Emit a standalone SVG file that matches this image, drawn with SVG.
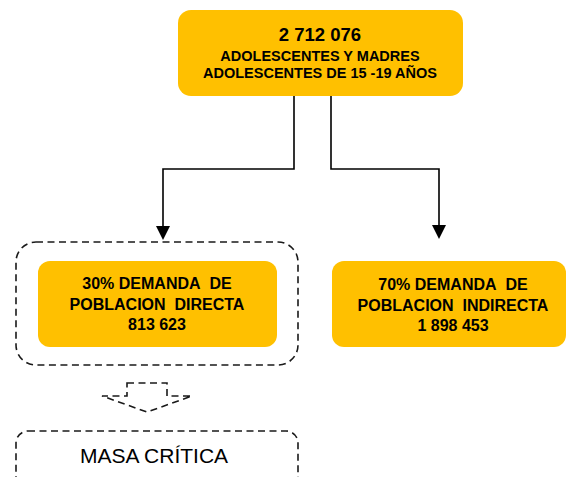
<svg xmlns="http://www.w3.org/2000/svg" width="567" height="477" viewBox="0 0 567 477">
<defs>
<style>
.box{fill:#FFC000;}
.t{font-family:"Liberation Sans",Arial,sans-serif;font-weight:bold;fill:#000;text-anchor:middle;}
.dash{fill:none;stroke:#1a1a1a;stroke-width:1.6;stroke-dasharray:7 4.5;}
.con{fill:none;stroke:#000;stroke-width:1.6;}
</style>
</defs>
<rect width="567" height="477" fill="#fff"/>
<g id="top">
<rect class="box" x="178" y="10" width="285" height="86" rx="13"/>
<text class="t" x="320" y="41" font-size="18.5">2 712 076</text>
<text class="t" x="320" y="61" font-size="14.5">ADOLESCENTES Y MADRES</text>
<text class="t" x="320" y="78" font-size="14.5">ADOLESCENTES DE 15 -19 AÑOS</text>
</g>
<g id="connectors">
<path class="con" d="M294,96 V169 H163 V226"/>
<path class="con" d="M331,96 V169 H439 V226"/>
<path d="M156,226 L170,226 L163,240 Z" fill="#000"/>
<path d="M432,225 L446,225 L439,239 Z" fill="#000"/>
<path class="dash" d="M127,383 H167 V396 H192 L147,412 L102,396 H127 Z"/>
</g>
<g id="group-directa">
<rect class="dash" x="16" y="242" width="282" height="123" rx="20"/>
</g>
<g id="directa">
<rect class="box" x="38" y="261" width="239" height="86" rx="12"/>
<text class="t" x="157" y="289" font-size="16">30% DEMANDA&#160; DE</text>
<text class="t" x="157" y="310" font-size="16">POBLACION&#160; DIRECTA</text>
<text class="t" x="157" y="330" font-size="16">813 623</text>
</g>
<g id="indirecta">
<rect class="box" x="332" y="261" width="234" height="86" rx="12"/>
<text class="t" x="453" y="290" font-size="16">70% DEMANDA&#160; DE</text>
<text class="t" x="453" y="311" font-size="16">POBLACION&#160; INDIRECTA</text>
<text class="t" x="453" y="331" font-size="16">1 898 453</text>
</g>
<g id="masa">
<rect class="dash" x="16" y="431" width="282" height="80" rx="12"/>
<text x="154" y="463" font-size="21" font-family="'Liberation Sans',Arial,sans-serif" text-anchor="middle" fill="#000">MASA CRÍTICA</text>
</g>
</svg>
